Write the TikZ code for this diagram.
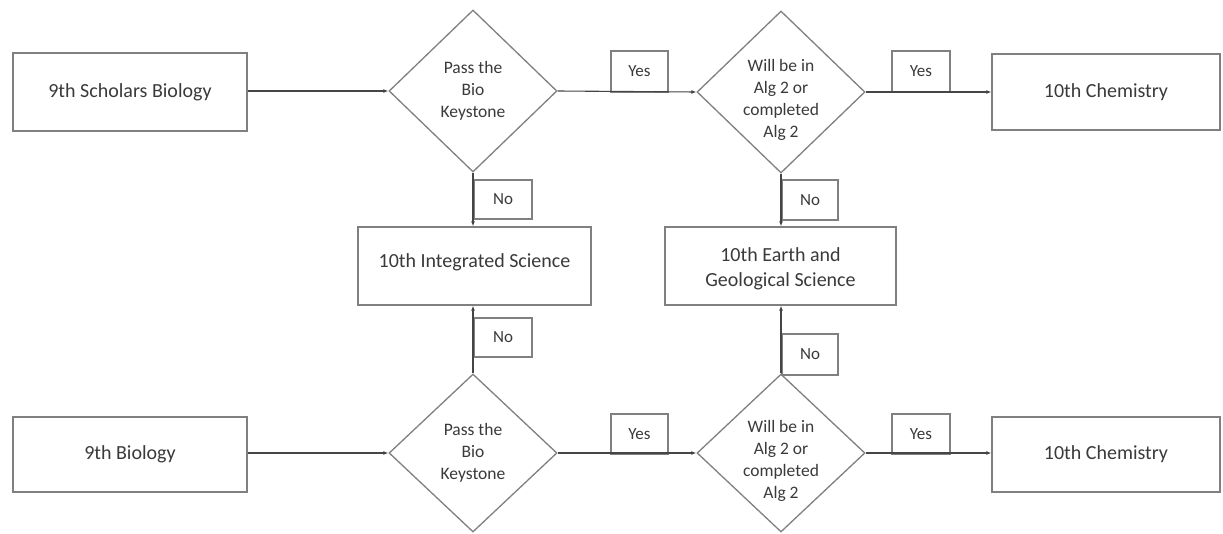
\documentclass[tikz,border=0pt]{standalone}
\usepackage{fontspec}
\setmainfont{Carlito}
\usetikzlibrary{shapes.geometric,arrows.meta}
\definecolor{boxgray}{HTML}{808080}
\definecolor{linegray}{HTML}{454545}
\definecolor{txt}{HTML}{3A3A3A}
\begin{document}
\begin{tikzpicture}[x=1pt,y=-1pt,
  box/.style={draw=boxgray, line width=1.3pt, inner sep=0pt, text=txt, font=\fontsize{20}{25}\selectfont, align=center},
  btext/.style={text=txt, font=\fontsize{20}{25}\selectfont, align=center},
  dia/.style={draw=boxgray, line width=1.3pt, diamond, inner sep=0pt, minimum width=168pt},
  dtext/.style={text=txt, font=\fontsize{17.5}{22}\selectfont, align=center},
  tag/.style={draw=boxgray, line width=1.3pt, inner sep=0pt, text=txt, font=\fontsize{17}{20}\selectfont},
  arr/.style={draw=linegray, line width=1.1pt, -{Latex[length=5pt,width=4pt]}},
]
\fill[white] (0,0) rectangle (1223,533);
\useasboundingbox (0,0) rectangle (1223,533);

% boxes
\node[box, minimum width=234pt, minimum height=78pt] (b1) at (130,92) {9th Scholars Biology};
\node[box, minimum width=234pt, minimum height=75pt] (b2) at (130,454.5) {9th Biology};
\node[box, minimum width=233pt, minimum height=78pt, label={[btext,yshift=4pt]center:10th Integrated Science}] (int) at (474.5,266) {};
\node[box, minimum width=231pt, minimum height=78pt, label={[btext,yshift=-3pt]center:{10th Earth and\\Geological Science}}] (earth) at (780.5,266) {};
\node[box, minimum width=228pt, minimum height=76pt] (c1) at (1106,92) {10th Chemistry};
\node[box, minimum width=228pt, minimum height=75pt] (c2) at (1106,454.5) {10th Chemistry};

% diamonds
\node[dia, minimum height=162pt, label={[dtext]center:{Pass the\\Bio\\Keystone}}] (d1) at (473,91) {};
\node[dia, minimum height=162pt, label={[dtext,yshift=-8pt]center:{Will be in\\Alg 2 or\\completed\\Alg 2}}] (d2) at (781,92) {};
\node[dia, minimum height=158pt, label={[dtext]center:{Pass the\\Bio\\Keystone}}] (d3) at (473,453) {};
\node[dia, minimum height=158pt, label={[dtext,yshift=-8pt]center:{Will be in\\Alg 2 or\\completed\\Alg 2}}] (d4) at (781,453) {};

% yes / no tags
\node[tag, minimum width=58pt, minimum height=39pt] (no1) at (503,199.5) {No};
\node[tag, minimum width=56pt, minimum height=40pt] (no2) at (810,200) {No};
\node[tag, minimum width=58pt, minimum height=39pt] (no3) at (503,337.5) {No};
\node[tag, minimum width=56pt, minimum height=41pt] (no4) at (810,354.5) {No};
\node[tag, minimum width=57pt, minimum height=41pt] (yes1) at (639.5,71.5) {Yes};
\node[tag, minimum width=58pt, minimum height=41pt] (yes2) at (921,71.5) {Yes};
\node[tag, minimum width=57pt, minimum height=40pt] (yes3) at (639.5,434) {Yes};
\node[tag, minimum width=58pt, minimum height=40pt] (yes4) at (921,434) {Yes};

% connectors
\draw[arr] (b1.east |- d1.west) -- (d1.west);
\draw[arr] (d1.east) -- (d2.west);
\draw[arr] (d2.east) -- (d2.east -| c1.west);
\draw[arr] (d1.south) -- (d1.south |- int.north);
\draw[arr] (d2.south) -- (d2.south |- earth.north);
\draw[arr] (d3.north) -- (d3.north |- int.south);
\draw[arr] (d4.north) -- (d4.north |- earth.south);
\draw[arr] (b2.east |- d3.west) -- (d3.west);
\draw[arr] (d3.east) -- (d4.west);
\draw[arr] (d4.east) -- (d4.east -| c2.west);
\end{tikzpicture}
\end{document}
